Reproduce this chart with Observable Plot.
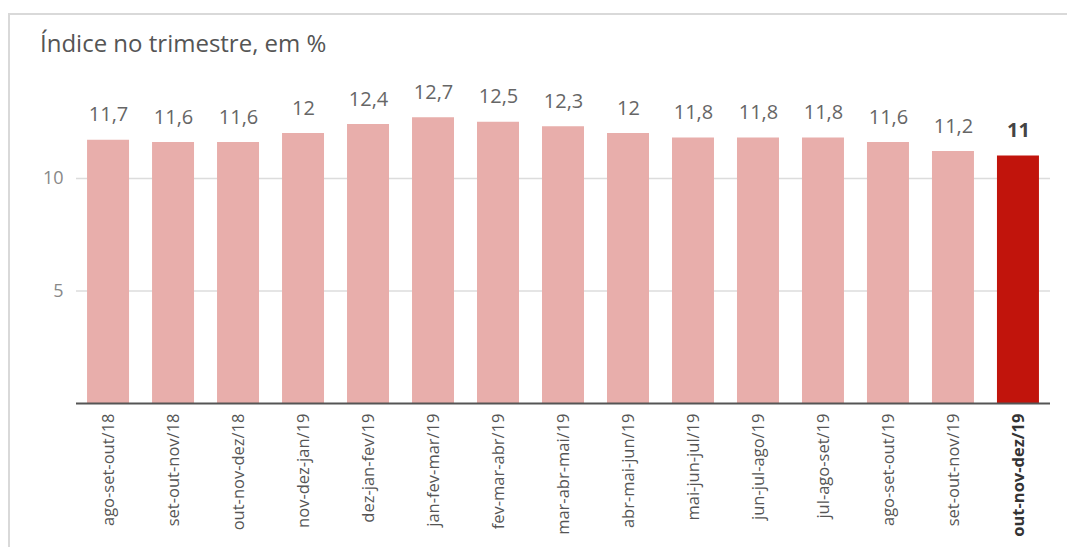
<!DOCTYPE html>
<html>
<head>
<meta charset="utf-8">
<script src="https://cdn.jsdelivr.net/npm/d3@7"></script>
<script src="https://cdn.jsdelivr.net/npm/@observablehq/plot@0.6"></script>
<style>
  html, body { margin: 0; padding: 0; background: #fff; }
  #wrap { position: relative; width: 1067px; height: 547px; overflow: hidden; font-family: "Open Sans", sans-serif; }
  #frame { position: absolute; left: 8px; top: 13px; right: 0; bottom: 0; border-top: 2px solid #d9d9d9; border-left: 2px solid #d9d9d9; }
  #title { position: absolute; left: 40px; top: 26px; font-size: 24px; color: #555; }
  #chart { position: absolute; left: 0; top: 0; }
</style>
</head>
<body>
<div id="wrap">
  <div id="frame"></div>
  <div id="chart"></div>
  <div id="title">Índice no trimestre, em %</div>
</div>
<script>
// Rolling quarters (moving three-month windows)
const periods = [
  "ago-set-out/18", "set-out-nov/18", "out-nov-dez/18", "nov-dez-jan/19",
  "dez-jan-fev/19", "jan-fev-mar/19", "fev-mar-abr/19", "mar-abr-mai/19",
  "abr-mai-jun/19", "mai-jun-jul/19", "jun-jul-ago/19", "jul-ago-set/19",
  "ago-set-out/19", "set-out-nov/19", "out-nov-dez/19"
];
// Rate in the quarter, %
const rates = [11.7, 11.6, 11.6, 12, 12.4, 12.7, 12.5, 12.3, 12, 11.8, 11.8, 11.8, 11.6, 11.2, 11];
const yTicks = [5, 10];
const highlight = "out-nov-dez/19";

const data = periods.map((p, i) => ({ period: p, rate: rates[i], last: p === highlight }));
const regular = data.filter(d => !d.last);
const latest = data.filter(d => d.last);
const fmt = v => String(v).replace(".", ",");

const valueLabel = (rows, opts) => Plot.text(rows, {
  x: "period", y: "rate", text: d => fmt(d.rate),
  lineAnchor: "bottom", dy: -19, fontSize: 20, ...opts
});
const periodLabel = (rows, opts) => Plot.text(rows, {
  x: "period", y: 0, text: "period",
  rotate: -90, textAnchor: "end", dy: 10, fontSize: 16.5, ...opts
});

const chart = Plot.plot({
  width: 1067,
  height: 547,
  marginTop: 65.5,
  marginBottom: 144,
  marginLeft: 76,
  marginRight: 17,
  style: { fontFamily: "Open Sans, sans-serif", background: "transparent" },
  x: { domain: periods, paddingInner: 0.354, paddingOuter: 0.17, round: false, axis: null },
  y: { domain: [0, 15], axis: null },
  marks: [
    Plot.gridY(yTicks, { stroke: "#dcdcdc", strokeOpacity: 1, strokeWidth: 1.5 }),
    Plot.axisY(yTicks, { tickSize: 0, tickPadding: 13, fontSize: 18, fill: "#888", tickFormat: d => d, label: null }),
    Plot.barY(data, { x: "period", y: "rate", fill: d => d.last ? "#c1140c" : "#e8aeab" }),
    Plot.ruleY([0], { stroke: "#555", strokeWidth: 2 }),
    valueLabel(regular, { fill: "#666" }),
    valueLabel(latest, { fill: "#444", fontWeight: "bold" }),
    periodLabel(regular, { fill: "#555" }),
    periodLabel(latest, { fill: "#333", fontWeight: "bold" })
  ]
});
document.getElementById("chart").appendChild(chart);
</script>
</body>
</html>
